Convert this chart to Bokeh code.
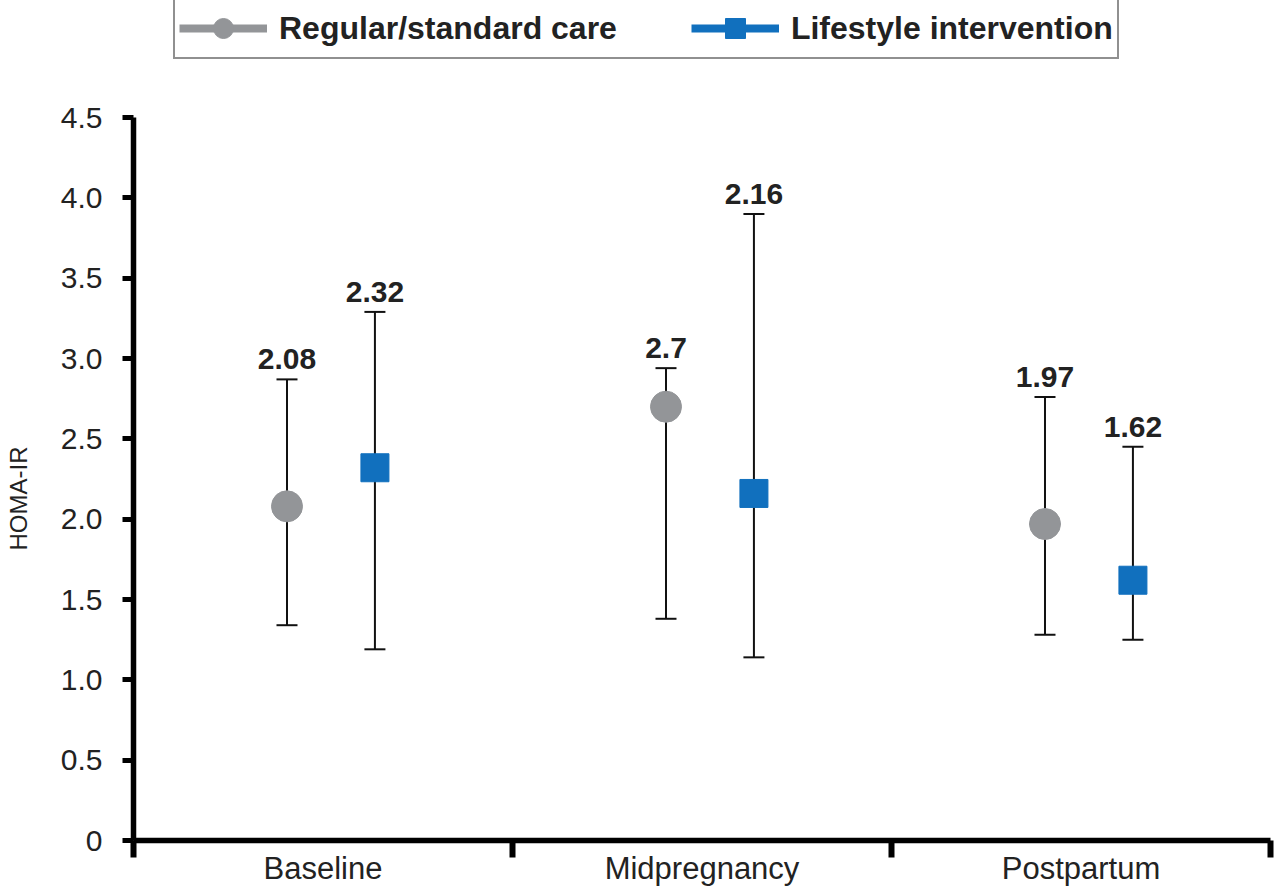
from bokeh.plotting import figure
from bokeh.models import (ColumnDataSource, Range1d, FixedTicker, Whisker, TeeHead,
                          Legend, LegendItem, Title)
from bokeh.transform import dodge
from bokeh.core.properties import value
from bokeh.embed import file_html
from bokeh.resources import INLINE

# ---- data ----
categories = ["Baseline", "Midpregnancy", "Postpartum"]
series_names = ["Regular/standard care", "Lifestyle intervention"]
care_mean = [2.08, 2.70, 1.97]
care_lower = [1.34, 1.38, 1.28]
care_upper = [2.87, 2.94, 2.76]
care_labels = ["2.08", "2.7", "1.97"]
life_mean = [2.32, 2.16, 1.62]
life_lower = [1.19, 1.14, 1.25]
life_upper = [3.29, 3.90, 2.45]
life_labels = ["2.32", "2.16", "1.62"]
y_ticks = [0, 0.5, 1.0, 1.5, 2.0, 2.5, 3.0, 3.5, 4.0, 4.5]
y_tick_labels = ["0", "0.5", "1.0", "1.5", "2.0", "2.5", "3.0", "3.5", "4.0", "4.5"]
y_label = "HOMA-IR"

# ---- style ----
FONT = "Liberation Sans"
GRAY = "#939598"
BLUE = "#1170BE"
INK = "#222222"
CARE_OFF = -0.095
LIFE_OFF = 0.137
FIG_H = 888
BOTTOM = 48
FRAME_H = FIG_H - BOTTOM
TOP_TICK_PX = 117          # screen y of the 4.5 tick
LEGEND_H = 58
Y_END = FRAME_H * y_ticks[-1] / (FRAME_H - TOP_TICK_PX)

centers = [i + 0.5 for i in range(len(categories))]
boundaries = list(range(len(categories) + 1))

care_src = ColumnDataSource(dict(pos=centers, mean=care_mean, lower=care_lower,
                                 upper=care_upper, label=care_labels))
life_src = ColumnDataSource(dict(pos=centers, mean=life_mean, lower=life_lower,
                                 upper=life_upper, label=life_labels))

p = figure(width=1274, height=FIG_H, output_backend="svg", toolbar_location=None,
           x_range=Range1d(0, len(categories)), y_range=Range1d(0, Y_END),
           min_border_left=133, min_border_right=4, min_border_top=0,
           min_border_bottom=BOTTOM)
p.outline_line_color = None
p.xgrid.visible = False
p.ygrid.visible = False
p.background_fill_color = "white"

# whiskers
for src, off in ((care_src, CARE_OFF), (life_src, LIFE_OFF)):
    w = Whisker(source=src, base=dodge("pos", off), upper="upper", lower="lower",
                line_color="#111111", line_width=2, level="underlay",
                upper_head=TeeHead(size=21, line_width=2, line_color="#111111"),
                lower_head=TeeHead(size=21, line_width=2, line_color="#111111"))
    p.add_layout(w)

# invisible lines used only for legend glyphs
care_line = p.line(x=dodge("pos", CARE_OFF), y="mean", source=care_src,
                   line_color=GRAY, line_width=8, visible=False)
life_line = p.line(x=dodge("pos", LIFE_OFF), y="mean", source=life_src,
                   line_color=BLUE, line_width=8, visible=False)

care_pts = p.scatter(x=dodge("pos", CARE_OFF), y="mean", source=care_src, marker="circle",
                     size=31, fill_color=GRAY, line_color=GRAY)
life_pts = p.scatter(x=dodge("pos", LIFE_OFF), y="mean", source=life_src, marker="square",
                     size=28, fill_color=BLUE, line_color=BLUE)

for src, off in ((care_src, CARE_OFF), (life_src, LIFE_OFF)):
    p.text(x=dodge("pos", off), y="upper", text="label", source=src, y_offset=-20,
           text_align="center", text_baseline="alphabetic", text_font=value(FONT),
           text_font_style="bold", text_font_size="30px", text_color=INK)

# axes
ya = p.yaxis[0]
ya.ticker = FixedTicker(ticks=y_ticks)
ya.major_label_overrides = {t: l for t, l in zip(y_ticks, y_tick_labels)}
ya.bounds = (y_ticks[0], y_ticks[-1])
ya.axis_line_width = 5.5
ya.axis_line_color = "black"
ya.major_tick_out = 11
ya.major_tick_in = 0
ya.major_tick_line_width = 5
ya.major_tick_line_color = "black"
ya.minor_tick_line_color = None
ya.major_label_standoff = 20
ya.major_label_text_font = FONT
ya.major_label_text_font_size = "30px"
ya.major_label_text_color = INK

xa = p.xaxis[0]
xa.ticker = FixedTicker(ticks=centers, minor_ticks=boundaries)
xa.major_label_overrides = {c: n for c, n in zip(centers, categories)}
xa.axis_line_width = 5.5
xa.axis_line_color = "black"
xa.major_tick_out = 0
xa.major_tick_in = 0
xa.major_tick_line_color = None
xa.minor_tick_out = 17
xa.minor_tick_in = 0
xa.minor_tick_line_width = 6
xa.minor_tick_line_color = "black"
xa.major_label_standoff = -7
xa.major_label_text_font = FONT
xa.major_label_text_font_size = "31px"
xa.major_label_text_color = INK

# spacer between the y axis and its title, then the title itself
p.add_layout(Title(text=" ", standoff=22, text_font=FONT, text_font_size="1px"), "left")
p.add_layout(Title(text=y_label, align="left", offset=290, standoff=2,
                   text_font=FONT, text_font_size="24px", text_font_style="normal",
                   text_color=INK), "left")

legend = Legend(items=[LegendItem(label=series_names[0], renderers=[care_line, care_pts]),
                       LegendItem(label=series_names[1], renderers=[life_line, life_pts])],
                orientation="horizontal", location=(40, FRAME_H - LEGEND_H - 1),
                glyph_width=88, glyph_height=50,
                label_standoff=12, spacing=74, padding=4, margin=0,
                border_line_color=INK, border_line_width=2.5,
                background_fill_color="white", background_fill_alpha=1,
                label_text_font=FONT, label_text_font_style="bold",
                label_text_font_size="32px", label_text_color=INK)
p.add_layout(legend)

open("out.html", "w").write(file_html(p, INLINE))
